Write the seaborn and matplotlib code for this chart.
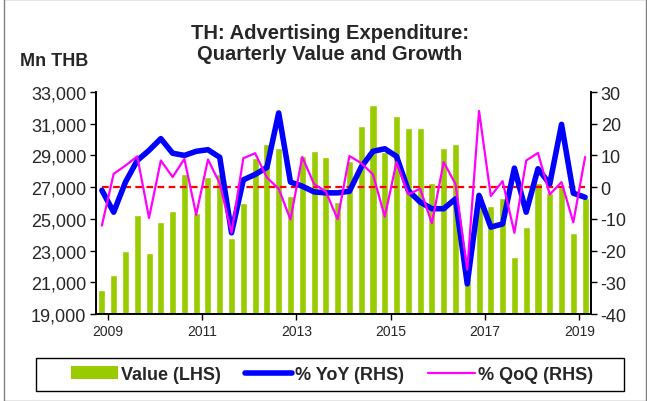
import numpy as np
import pandas as pd
import matplotlib
matplotlib.use('Agg')
import matplotlib.pyplot as plt
import seaborn as sns
from matplotlib.patches import Patch, Rectangle
from matplotlib.lines import Line2D

# quarterly data 2009Q1 - 2019Q2
years = list(range(2009, 2020))
value = [20500, 21440, 22980, 25270, 22850, 24790, 25500, 27820,
         25380, 27670, 27820, 23820, 26010, 28850, 29690, 29440,
         26470, 28970, 29290, 28910, 26050, 28660, 30870, 32190,
         29200, 31480, 30740, 30700, 27230, 29440, 29750, 21300,
         26530, 25800, 26320, 22600, 24490, 27230, 26600, 27020,
         24110, 26320]
yoy = [-1.0, -7.9, 1.6, 8.4, 11.6, 15.3, 10.7, 10.0,
       11.3, 11.8, 9.4, -14.4, 2.3, 4.0, 6.2, 23.4,
       1.6, 0.3, -1.5, -1.8, -1.8, -1.3, 6.3, 11.3,
       12.1, 9.7, -1.1, -4.7, -6.8, -6.8, -3.7, -30.5,
       -2.6, -12.6, -11.6, 6.0, -7.9, 5.8, 1.0, 19.8,
       -1.9, -3.2]
qoq = [-12.1, 4.2, 6.8, 9.7, -9.7, 8.4, 3.2, 8.9,
       -8.7, 8.7, 1.2, -14.4, 9.1, 10.7, 3.0, -0.5,
       -10.2, 9.5, 1.0, -1.4, -10.1, 9.8, 7.6, 4.0,
       -9.3, 7.9, -2.3, -0.5, -11.4, 7.9, 1.0, -26.0,
       24.0, -2.8, 1.9, -14.4, 8.4, 10.8, -2.3, 1.6,
       -11.1, 9.5]

n = len(value)
df = pd.DataFrame({'q': np.arange(n), 'value': value, 'yoy': yoy, 'qoq': qoq})
df['zero'] = 0.0

sns.set_style('white')
plt.rcParams['font.family'] = ['Liberation Sans', 'DejaVu Sans']

fig = plt.figure(figsize=(6.47, 4.02), dpi=100)
ax = fig.add_axes([96/647, 1-315/402, (591-96)/647, (315-93)/402])

sns.barplot(data=df, x='q', y='value', color='#99CC00', width=0.6,
            saturation=1, ax=ax, zorder=2)
ax.set_xlim(-0.5, n - 0.5)
ax.set_ylim(19000, 33000)
ax.set_yticks(range(19000, 33001, 2000))
ax.set_yticklabels([f'{v:,}' for v in range(19000, 33001, 2000)], fontsize=13)
ax.set_xlabel('')
ax.set_ylabel('')

ax2 = ax.twinx()
sns.lineplot(data=df, x='q', y='zero', color='#FF0000', lw=1.6,
             linestyle=(0, (3, 2)), ax=ax2)
sns.lineplot(data=df, x='q', y='yoy', color='#0000FF', lw=4.0, ax=ax2)
sns.lineplot(data=df, x='q', y='qoq', color='#FF00FF', lw=1.6, ax=ax2)
ax2.set_ylim(-40, 30)
ax2.set_yticks(range(-40, 31, 10))
ax2.set_yticklabels([str(v) for v in range(-40, 31, 10)], fontsize=13)
ax2.set_ylabel('')
ax2.set_xlim(-0.5, n - 0.5)

# year ticks at the start of each year, labels every other year
ax.set_xticks(np.arange(-0.5, n, 4))
ax.set_xticklabels([])
ax2.set_xticks(np.arange(0.5, n, 8))
ax2.set_xticklabels([str(y) for y in years[::2]], fontsize=13)
ax2.tick_params(axis='x', length=0, pad=7)
ax2.xaxis.set_ticks_position('bottom')
ax2.set_xlabel('')

for a in (ax, ax2):
    a.tick_params(axis='y', length=4, width=1, color='black', direction='out', pad=3)
    a.spines['top'].set_visible(False)
    for s in ['left', 'bottom', 'right']:
        a.spines[s].set_color('black')
        a.spines[s].set_linewidth(1.2)
ax.tick_params(axis='x', length=4, width=1, color='black', direction='out')
ax.tick_params(left=True, bottom=True)
ax2.tick_params(right=True)

fig.text(330/647, 1-44/402, 'TH: Advertising Expenditure:\nQuarterly Value and Growth',
         ha='center', va='center', fontsize=14.5, fontweight='bold', linespacing=1.1)
fig.text(20/647, 1-61/402, 'Mn THB', ha='left', va='center', fontsize=13,
         fontweight='bold')

# legend box
fig.patches.append(Rectangle((36/647, 1-392/402), 588/647, 33/402,
                             transform=fig.transFigure, fill=False,
                             edgecolor='black', lw=1.0))
handles = [Patch(facecolor='#99CC00', edgecolor='none'),
           Line2D([], [], color='#0000FF', lw=4.0),
           Line2D([], [], color='#FF00FF', lw=1.6)]
labels = ['Value (LHS)', '% YoY (RHS)', '% QoQ (RHS)']
leg = fig.legend(handles, labels, loc='center', ncol=3,
                 bbox_to_anchor=(332/647, 1-375.5/402), frameon=False,
                 handlelength=2.6, handletextpad=0.2, columnspacing=1.3,
                 borderaxespad=0, prop={'weight': 'bold', 'size': 13})

fig.patches.append(Rectangle((4/647, 0), 1 - 5/647, 1, transform=fig.transFigure,
                             fill=False, edgecolor='#808080', lw=1))

fig.savefig('out.png', dpi=100)
